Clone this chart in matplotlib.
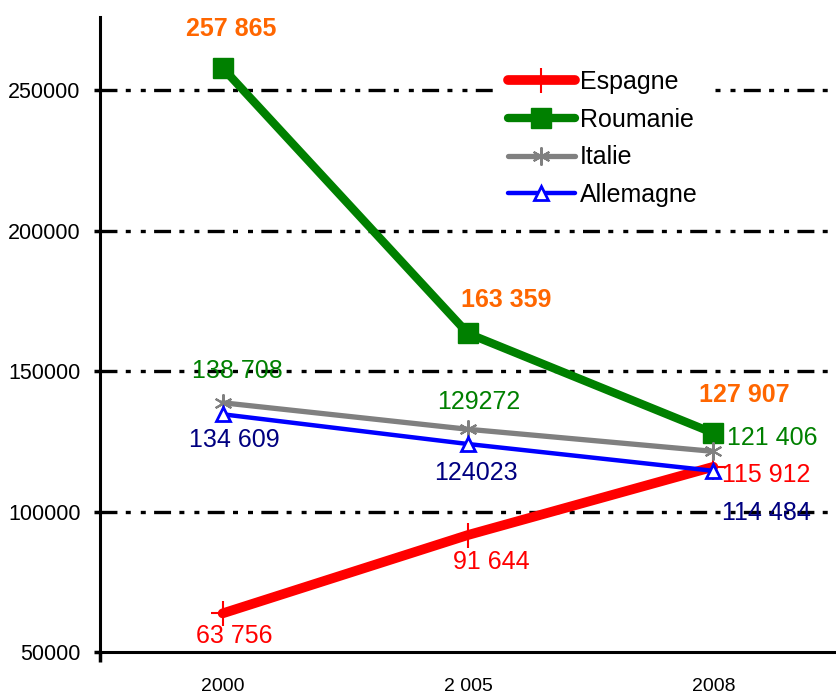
import matplotlib
matplotlib.use("Agg")
import matplotlib.pyplot as plt

plt.rcParams['font.family'] = ['Liberation Sans', 'DejaVu Sans']
plt.rcParams['lines.scale_dashes'] = False

years = ["2000", "2 005", "2008"]
espagne = [63756, 91644, 115912]
roumanie = [257865, 163359, 127907]
italie = [138708, 129272, 121406]
allemagne = [134609, 124023, 114484]

lab_espagne = ["63 756", "91 644", "115 912"]
lab_roumanie = ["257 865", "163 359", "127 907"]
lab_italie = ["138 708", "129272", "121 406"]
lab_allemagne = ["134 609", "124023", "114 484"]

yticks = [50000, 100000, 150000, 200000, 250000]

fig = plt.figure(figsize=(8.36, 6.96), dpi=100)
ax = fig.add_axes([0.1196, 0.0632, 0.8804, 0.9124])
x = list(range(len(years)))

for yv in yticks[1:]:
    ax.axhline(yv, color='black', lw=2.4, ls=(0, (12.2, 6, 3.6, 7.2, 3.6, 6)), zorder=1)

l1, = ax.plot(x, espagne, color='#ff0000', lw=7.0, marker='+', ms=18, mew=1.5,
              solid_capstyle='round', zorder=3, label='Espagne')
l2, = ax.plot(x, roumanie, color='#008000', lw=6.0, marker='s', ms=14,
              solid_capstyle='round', zorder=3, label='Roumanie')
l3, = ax.plot(x, italie, color='#808080', lw=3.8, marker=(6, 2, 0), ms=13, mew=1.5,
              solid_capstyle='round', zorder=3, label='Italie')
l4, = ax.plot(x, allemagne, color='#0000ff', lw=3.2, marker='^', ms=10, mew=2,
              mfc='white', mec='#0000ff', solid_capstyle='round', zorder=3, label='Allemagne')

def lab(i, yv, txt, dx, dy, color, bold=False):
    ax.annotate(txt, (i, yv), xytext=(dx * 0.72, -dy * 0.72), textcoords='offset points',
                ha='center', va='center', color=color, fontsize=18,
                fontweight='bold' if bold else 'normal', zorder=4)

rou_off = [(9, -39), (38, -33), (31, -38)]
for i in x:
    lab(i, roumanie[i], lab_roumanie[i], *rou_off[i], '#ff6600', bold=True)
ita_off = [(15, -32), (11, -27), (59, -13)]
for i in x:
    lab(i, italie[i], lab_italie[i], *ita_off[i], '#008000')
all_off = [(12, 26), (8, 29), (53, 42)]
for i in x:
    lab(i, allemagne[i], lab_allemagne[i], *all_off[i], '#000080')
esp_off = [(12, 23), (23, 27), (53, 8)]
for i in x:
    lab(i, espagne[i], lab_espagne[i], *esp_off[i], '#ff0000')

ax.set_xlim(-0.5, 2.5)
ax.set_ylim(50000, 276000)
ax.set_xticks(x)
ax.set_xticklabels(years, fontsize=14)
ax.set_xticks([-0.5], minor=True)
ax.tick_params(axis='x', which='major', length=0, pad=19)
ax.tick_params(axis='x', which='minor', length=7, width=2.5)
ax.set_yticks(yticks)
ax.set_yticklabels([str(v) for v in yticks], fontsize=15.5)
ax.tick_params(axis='y', length=4, width=2.5, pad=10)

for s in ['top', 'right']:
    ax.spines[s].set_visible(False)
for s in ['left', 'bottom']:
    ax.spines[s].set_linewidth(2.2)
    ax.spines[s].set_color('black')

leg = ax.legend(handles=[l1, l2, l3, l4], loc='upper left', bbox_to_anchor=(0.52, 0.956),
                frameon=True, fancybox=False, edgecolor='white', facecolor='white',
                framealpha=1, fontsize=18, handlelength=2.7, handletextpad=0.2,
                labelspacing=0.55, borderpad=0.5)
leg.set_zorder(5)

fig.savefig("out.png", dpi=100)
